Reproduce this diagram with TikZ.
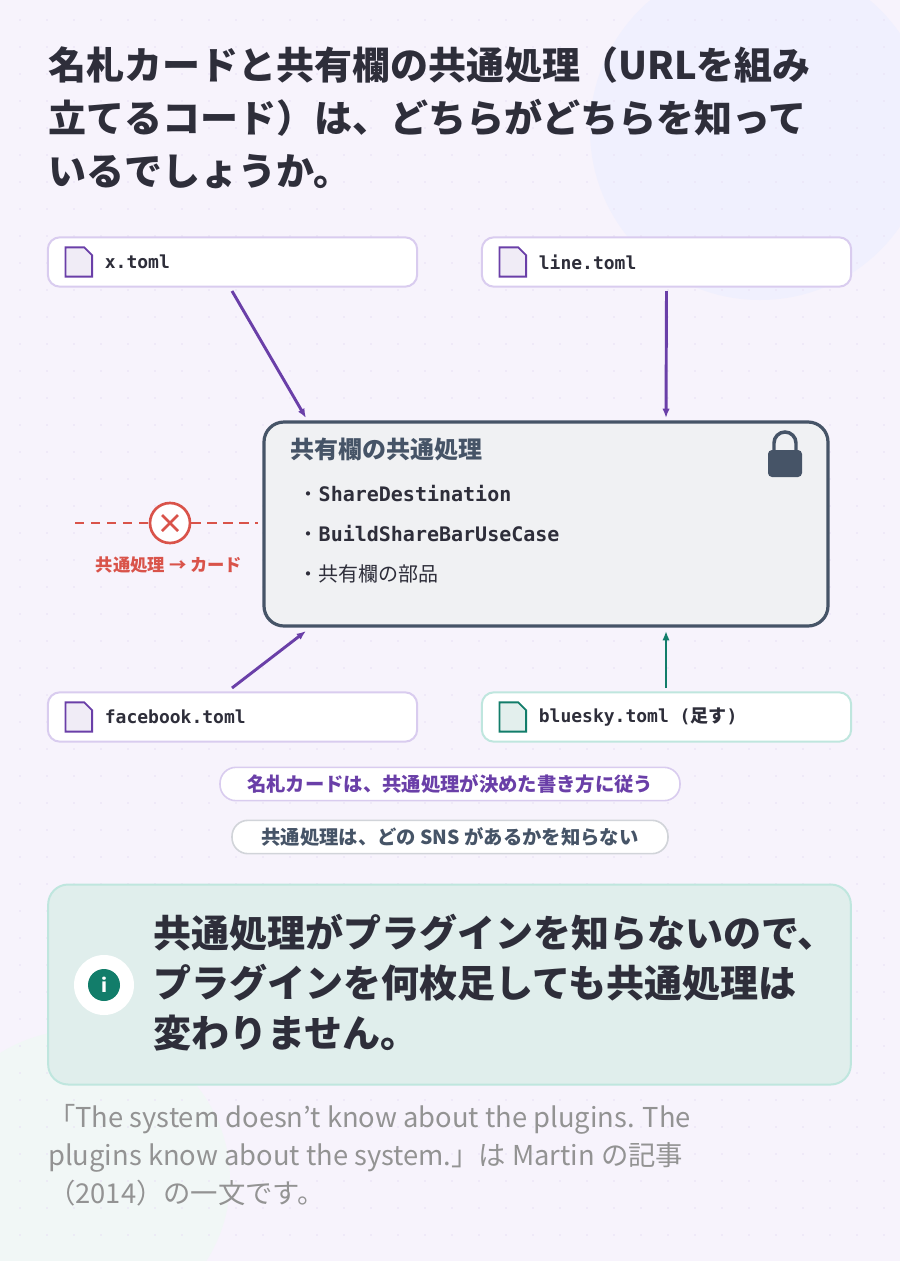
\documentclass[tikz,border=0pt]{standalone}
\usepackage{fontspec}
\setmainfont{Noto Sans CJK JP}
\setmonofont{DejaVu Sans Mono}
\newfontfamily\cjk{Noto Sans CJK JP}
\usetikzlibrary{arrows.meta,positioning}
\definecolor{bgpurple}{HTML}{F7F3FC}
\definecolor{ink}{HTML}{2E2E3A}
\definecolor{slate}{HTML}{465467}
\definecolor{plum}{HTML}{6A3FA8}
\definecolor{lilac}{HTML}{D9CCEF}
\definecolor{teal}{HTML}{127D6A}
\definecolor{mint}{HTML}{BFE6DE}
\definecolor{alert}{HTML}{D9534A}
\tikzset{
  file/.style={draw=lilac, line width=1.5pt, fill=white, rounded corners=9pt,
    minimum width=277pt, minimum height=37pt},
  fname/.style={font=\ttfamily\bfseries\fontsize{13.5}{16}\selectfont, text=ink, anchor=west},
  pill/.style={draw=lilac, line width=1.2pt, fill=white, rounded corners=12pt,
    inner xsep=12pt, minimum height=25pt, font=\bfseries\fontsize{14.5}{16}\selectfont},
  link/.style={-{Latex[length=7pt,width=5.5pt]}, line width=2.2pt, draw=plum},
  item/.style={anchor=west, text=ink, font=\fontsize{15}{18}\selectfont},
}
\begin{document}
\begin{tikzpicture}[x=0.75pt,y=-0.75pt]
\useasboundingbox (0,0) rectangle (900,1261);
\fill[bgpurple] (0,0) rectangle (900,1261);
\begin{scope}
\clip (0,0) rectangle (900,1261);
\fill[purple!4!blue!6] (760,130) circle (170);
\fill[teal!6] (80,1180) circle (150);
\foreach \i in {0,...,40}{\foreach \j in {0,...,60}{\fill[lilac!60] (\i*27+20,\j*27+20) circle (0.9);}}
\end{scope}

% title
\node[anchor=north west, align=left, text=ink, font=\bfseries\fontsize{28.5}{40}\selectfont, inner sep=0]
  (title) at (48,46) {名札カードと共有欄の共通処理（URLを組み\\立てるコード）は、どちらがどちらを知って\\いるでしょうか。};

% plugin files
\node[file] (xfile) at (232.5,262) {};
\node[file] (linefile) at (666.5,262) {};
\node[file] (fbfile) at (232.5,717) {};
\node[file, draw=mint] (bsfile) at (666.5,717) {};
\foreach \n/\c/\f in {xfile/plum/plum!10, linefile/plum/plum!10, fbfile/plum/plum!10, bsfile/teal/teal!12}{
  \draw[\c, line width=1.4pt, fill=\f] ([xshift=14pt,yshift=-11pt]\n.west) -- ++(0,22pt) -- ++(14pt,0) -- ++(6pt,-6pt) -- ++(0,-16pt) -- cycle;}
\node[fname] at ([xshift=40pt]xfile.west) {x.toml};
\node[fname] at ([xshift=40pt]linefile.west) {line.toml};
\node[fname] at ([xshift=40pt]fbfile.west) {facebook.toml};
\node[fname] at ([xshift=40pt]bsfile.west) {bluesky.toml ({\cjk 足す})};

% shared core
\node[draw=slate, line width=2.4pt, fill=slate!8, rounded corners=15pt,
  minimum width=423pt, minimum height=153pt] (core) at (546,524) {};
\node[anchor=north west, text=slate, font=\bfseries\fontsize{18}{20}\selectfont, inner sep=0]
  (coretitle) at (290,438) {共有欄の共通処理};
\node[item] (item1) at (294,494) {・{\ttfamily\bfseries ShareDestination}};
\node[item] (item2) at (294,534) {・{\ttfamily\bfseries BuildShareBarUseCase}};
\node[item] (item3) at (294,574) {・共有欄の部品};
% lock
\draw[slate, line width=2.6pt] (774,452) -- (774,443) arc (180:360:11) -- (796,452);
\fill[slate, rounded corners=3pt] (768,450) rectangle (802,477);

% connectors
\coordinate (xin) at (306,418);
\coordinate (lin) at (666,418);
\coordinate (fin) at (306,631);
\coordinate (bin) at (666,631);
\draw[link] (232,291) -- (xin);
\draw[link] (linefile.south |- 0,291) -- (lin);
\draw[link] (232,688) -- (fin);
\draw[link, draw=teal] (666,688) -- (bin);

% forbidden dependency
\node[circle, draw=alert, line width=2pt, fill=white, minimum size=30pt] (nodep) at (170,523) {};
\draw[alert, line width=2pt] ([shift={(-8,-8)}]nodep.center) -- ([shift={(8,8)}]nodep.center)
  ([shift={(-8,8)}]nodep.center) -- ([shift={(8,-8)}]nodep.center);
\draw[alert, line width=2pt, dash pattern=on 7pt off 5pt] (75,523) -- (nodep.west);
\draw[alert, line width=2pt, dash pattern=on 7pt off 5pt] (nodep.east) -- (258,523);
\node[text=alert, font=\bfseries\fontsize{13}{15}\selectfont] (nodeplabel) at (169,565) {共通処理 → カード};

% notes
\node[pill, text=plum, minimum width=345pt] (note1) at (450,784) {名札カードは、共通処理が決めた書き方に従う};
\node[pill, text=slate, draw=slate!25, minimum width=327pt] (note2) at (450,837) {共通処理は、どの SNS があるかを知らない};

% info box
\node[draw=mint, line width=1.5pt, fill=teal!13, rounded corners=15pt,
  minimum width=602pt, minimum height=150pt] (info) at (449.5,984.5) {};
\fill[white] (104,985) circle (30);
\node[circle, fill=teal, minimum size=24pt, inner sep=0, text=white,
  font=\bfseries\fontsize{14}{14}\selectfont] (icon) at (104,985) {i};
\node[anchor=west, align=left, text=ink, font=\bfseries\fontsize{28.5}{37.5}\selectfont, inner sep=0]
  (infotext) at (153,983) {共通処理がプラグインを知らないので、\\プラグインを何枚足しても共通処理は\\変わりません。};

% footer
\node[anchor=north west, align=left, text=gray!85, font=\fontsize{20.5}{28.5}\selectfont, inner sep=0]
  (quote) at (48,1104) {「The system doesn't know about the plugins. The\\plugins know about the system.」は Martin の記事\\（2014）の一文です。};
\end{tikzpicture}
\end{document}
